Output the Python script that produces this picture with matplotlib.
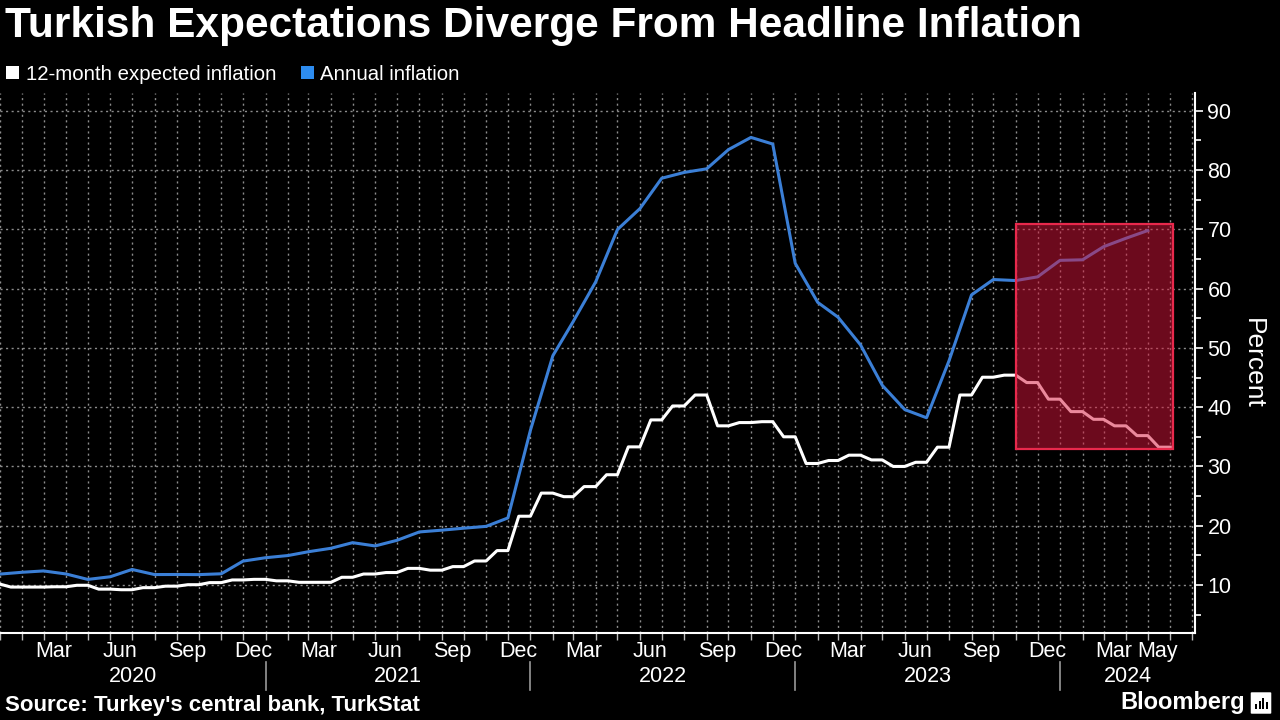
import numpy as np
import pandas as pd
import matplotlib
matplotlib.use("Agg")
import matplotlib.pyplot as plt
import matplotlib.dates as mdates
from matplotlib.patches import Rectangle, Patch, FancyBboxPatch
from matplotlib.ticker import MultipleLocator

plt.rcParams['font.family'] = ['Liberation Sans', 'DejaVu Sans']

# annual CPI, each reading stamped at the end of its month (Dec 2019 .. Apr 2024)
cpi_dates = pd.date_range("2020-01-01", "2024-05-01", freq="MS")
annual_inflation = [11.84,
    12.15, 12.37, 11.86, 10.94, 11.39, 12.62, 11.76, 11.77, 11.75, 11.89, 14.03, 14.60,
    14.97, 15.61, 16.19, 17.14, 16.59, 17.53, 18.95, 19.25, 19.58, 19.89, 21.31, 36.08,
    48.69, 54.44, 61.14, 69.97, 73.50, 78.62, 79.60, 80.21, 83.45, 85.51, 84.39, 64.27,
    57.68, 55.18, 50.51, 43.68, 39.59, 38.21, 47.83, 58.94, 61.53, 61.36, 61.98, 64.77,
    64.86, 67.07, 68.50, 69.80]

# 12-month expected inflation, survey month (Dec 2019 .. May 2024)
exp_dates = pd.date_range("2019-12-01", "2024-05-01", freq="MS")
expected_inflation = [10.15,
    9.65, 9.65, 9.7, 9.95, 9.3, 9.2, 9.55, 9.8, 10.05, 10.4, 10.85, 10.95,
    10.7, 10.45, 10.45, 11.3, 11.85, 12.1, 12.8, 12.5, 13.1, 14.05, 15.8, 21.6,
    25.5, 24.9, 26.6, 28.6, 33.3, 37.85, 40.2, 42.05, 36.85, 37.4, 37.55, 35.0,
    30.5, 31.0, 31.9, 31.1, 30.0, 30.7, 33.25, 42.05, 45.05, 45.4, 44.15, 41.35,
    39.25, 37.95, 36.85, 35.2, 33.25]

tick_months = ["2020-03", "2020-06", "2020-09", "2020-12",
               "2021-03", "2021-06", "2021-09", "2021-12",
               "2022-03", "2022-06", "2022-09", "2022-12",
               "2023-03", "2023-06", "2023-09", "2023-12",
               "2024-03", "2024-05"]
years = [2020, 2021, 2022, 2023, 2024]

x_start = pd.Timestamp("2020-01-01")
x_end = pd.Timestamp("2024-07-05")

# survey value changes mid-month, held until next survey
wx, wy = [], []
for i in range(1, len(exp_dates)):
    m = exp_dates[i]
    wx += [m, m + pd.Timedelta(days=15)]
    wy += [expected_inflation[i - 1], expected_inflation[i]]
wx.append(pd.Timestamp("2024-06-01"))
wy.append(expected_inflation[-1])

blue = "#3b7fd6"
grid_c = "#8c8c8c"

fig = plt.figure(figsize=(12.8, 7.2), dpi=100, facecolor="black")
ax = fig.add_axes([0, 1 - 633 / 720, 1195 / 1280, 540 / 720])
ax.set_facecolor("black")

ax.plot(cpi_dates, annual_inflation, color=blue, lw=2.2, zorder=3, solid_joinstyle="round")
ax.plot(wx, wy, color="white", lw=2.2, zorder=3, solid_joinstyle="round")

# highlight box
bx0 = mdates.date2num(pd.Timestamp("2023-11-01"))
bx1 = mdates.date2num(pd.Timestamp("2024-06-04"))
ax.add_patch(Rectangle((bx0, 32.9), bx1 - bx0, 38.0, facecolor="#d8153a", alpha=0.5,
                       edgecolor="none", zorder=4))
ax.add_patch(Rectangle((bx0, 32.9), bx1 - bx0, 38.0, facecolor="none",
                       edgecolor="#e8294c", lw=1.6, zorder=5))

ax.set_xlim(x_start, x_end)
ax.set_ylim(1.9, 93)

ax.yaxis.tick_right()
ax.yaxis.set_label_position("right")
ax.yaxis.set_major_locator(MultipleLocator(10))
ax.yaxis.set_minor_locator(MultipleLocator(5))
ax.set_yticks(range(10, 100, 10))
ax.tick_params(axis="y", which="major", colors="white", labelsize=15.5, length=6, width=1.2, pad=3)
ax.tick_params(axis="y", which="minor", colors="white", length=4, width=1.2)
ax.set_ylabel("Percent", color="white", fontsize=19, rotation=270, labelpad=24)

ax.xaxis.set_major_locator(mdates.MonthLocator())
ax.xaxis.set_major_formatter(plt.NullFormatter())
ax.tick_params(axis="x", which="major", colors="#bbbbbb", length=5, width=1)

ax.grid(True, which="major", color=grid_c, lw=1, linestyle=(0, (1.5, 2.5)), zorder=1)
ax.set_axisbelow(True)

for s in ["left", "top"]:
    ax.spines[s].set_visible(False)
for s in ["right", "bottom"]:
    ax.spines[s].set_color("white")
    ax.spines[s].set_linewidth(1.5)

tr = ax.get_xaxis_transform()
for t in tick_months:
    d = pd.Timestamp(t + "-15")
    ax.text(d, -0.034, d.strftime("%b"), transform=tr, color="white", fontsize=15.5,
            ha="center", va="center", clip_on=False)
for y in years:
    y0 = max(pd.Timestamp(f"{y}-01-01"), x_start)
    y1 = min(pd.Timestamp(f"{y + 1}-01-01"), x_end)
    mid = y0 + (y1 - y0) / 2
    ax.text(mid, -0.08, str(y), transform=tr, color="white", fontsize=15.5,
            ha="center", va="center", clip_on=False)
    if y > years[0]:
        ax.plot([y0, y0], [-0.054, -0.106], transform=tr, color="#999999", lw=1.2,
                clip_on=False)

fig.text(0.004, 1 - 26 / 720, "Turkish Expectations Diverge From Headline Inflation",
         color="white", fontsize=30.5, fontweight="bold", ha="left", va="center")

handles = [Patch(facecolor="white", edgecolor="none"), Patch(facecolor="#2d8cf0", edgecolor="none")]
fig.legend(handles, ["12-month expected inflation", "Annual inflation"], loc="center left",
           bbox_to_anchor=(0.0, 1 - 74 / 720), ncol=2, frameon=False, fontsize=14.7,
           labelcolor="white", handlelength=0.65, handleheight=0.65, handletextpad=0.3,
           columnspacing=1.2, borderpad=0.3, borderaxespad=0)

fig.text(0.004, 1 - 705 / 720, "Source: Turkey's central bank, TurkStat", color="white",
         fontsize=16, fontweight="bold", ha="left", va="center")
fig.text(1245 / 1280, 1 - 703 / 720, "Bloomberg", color="white", fontsize=17,
         fontweight="bold", ha="right", va="center")

# small logo box
fig.patches.append(FancyBboxPatch((1252 / 1280, 1 - 713 / 720), 18 / 1280, 20 / 720,
                                  boxstyle="round,pad=0.001", facecolor="white",
                                  edgecolor="none", transform=fig.transFigure))
for k, h in enumerate([5, 8, 11, 7]):
    fig.patches.append(Rectangle(((1255 + k * 3.5) / 1280, 1 - 709 / 720), 2 / 1280, h / 720,
                                 facecolor="black", transform=fig.transFigure))

fig.savefig("out.png", dpi=100, facecolor="black")
